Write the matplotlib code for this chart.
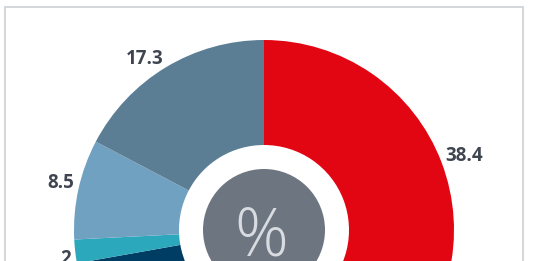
import matplotlib
matplotlib.use("Agg")
import matplotlib.pyplot as plt
from matplotlib.patches import Rectangle, Circle
import numpy as np

# data
labels = ["38.4", "33.8", "2", "8.5", "17.3"]
values = [38.4, 33.8, 2.0, 8.5, 17.3]
colors = ["#E20613", "#003D64", "#2CA8BD", "#71A1C1", "#5B7E95"]
center_text = "%"

W, H = 533, 261
fig = plt.figure(figsize=(W / 100, H / 100), dpi=100)
ax = fig.add_axes([0, 0, 1, 1])

cx, cy = 264, H - 230
R, r_in, r_gray = 190, 85, 61

# frame
ax.add_patch(Rectangle((5, -20), 518, H - 7 + 20, fill=False,
                       edgecolor="#D3D7DB", lw=1.4))

wedges, _ = ax.pie(values, colors=colors, startangle=90, counterclock=False,
                   radius=R, center=(cx, cy),
                   wedgeprops=dict(width=R - r_in, linewidth=0),
                   frame=True)
ax.set_xlim(0, W)
ax.set_ylim(0, H)
ax.set_aspect("equal")
ax.axis("off")

ax.add_patch(Circle((cx, cy), r_gray, color="#6D7580", lw=0, zorder=3))
ax.text(cx - 3, cy - 25, center_text, ha="center", va="baseline", fontsize=48,
        color="#D8DCE0", family=["Open Sans", "DejaVu Sans"], weight="light",
        zorder=4)

for w, lab in zip(wedges, labels):
    ang = np.deg2rad((w.theta1 + w.theta2) / 2)
    d = R + 4
    ax_ = cx + d * np.cos(ang)
    ay_ = cy + d * np.sin(ang)
    if ay_ < -5:
        continue
    ha = "left" if np.cos(ang) > 0 else "right"
    if np.sin(ang) > 0:
        va = "baseline"
    else:
        va = "top"
        ay_ += 3
    ax.text(ax_, ay_, lab, ha=ha, va=va, fontsize=13.5, color="#3F4550",
            family=["Open Sans", "DejaVu Sans"], weight="bold")

fig.savefig("out.png", dpi=100)
